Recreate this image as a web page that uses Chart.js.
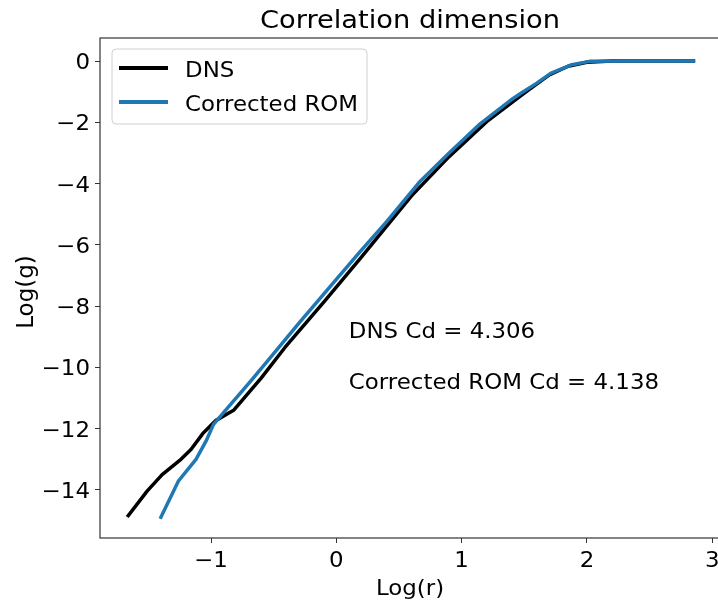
<!DOCTYPE html>
<html>
<head>
<meta charset="utf-8">
<script src="https://cdn.jsdelivr.net/npm/chart.js@4.4.0/dist/chart.umd.min.js"></script>
<style>
  body { margin: 0; background: #fff; }
  #wrap { width: 718px; height: 601px; overflow: hidden; }
</style>
</head>
<body>
<div id="wrap"><canvas id="chart" width="730" height="601"></canvas></div>
<script>
// DNS curve (log r, log g)
const dnsX = [-1.66, -1.51, -1.39, -1.24, -1.16, -1.06, -0.96, -0.82, -0.6, -0.41, -0.09, 0.2, 0.35, 0.6, 0.9, 1.2, 1.5, 1.7, 1.85, 2.0, 2.2, 2.5, 2.85];
const dnsY = [-14.84, -14.04, -13.5, -13.0, -12.68, -12.13, -11.73, -11.4, -10.35, -9.35, -7.82, -6.4, -5.65, -4.4, -3.12, -1.98, -1.05, -0.45, -0.17, -0.04, 0, 0, 0];

// Corrected ROM curve
const romX = [-1.4, -1.26, -1.12, -1.04, -0.98, -0.9, -0.68, -0.53, -0.3, 0, 0.19, 0.4, 0.67, 0.9, 1.15, 1.39, 1.47, 1.6, 1.71, 1.87, 2.02, 2.3, 2.6, 2.85];
const romY = [-14.89, -13.71, -13.0, -12.41, -11.86, -11.48, -10.43, -9.7, -8.56, -7.13, -6.22, -5.25, -3.92, -3.0, -2.04, -1.28, -1.06, -0.72, -0.4, -0.13, -0.01, 0, 0, 0];

const seriesNames = ["DNS", "Corrected ROM"];
const xTicks = [-1, 0, 1, 2, 3];
const yTicks = [0, -2, -4, -6, -8, -10, -12, -14];
const notes = [
    { x: 0.1, y: -9.05, text: "DNS Cd = 4.306" },
    { x: 0.1, y: -10.7, text: "Corrected ROM Cd = 4.138" }
];

const FONT = "'DejaVu Sans', sans-serif";
const STRETCH = 1.09; // the reference text is a little wider than it is tall
const minus = v => String(v).replace("-", "\u2212");

function toPoints(xs, ys) {
    return xs.map((x, i) => ({ x: x, y: ys[i] }));
}

function text(ctx, str, x, y, align, size) {
    ctx.save();
    ctx.translate(x, y);
    ctx.scale(STRETCH, 1);
    ctx.font = size + "px " + FONT;
    ctx.textAlign = align;
    ctx.textBaseline = "alphabetic";
    ctx.fillStyle = "#000";
    ctx.fillText(str, 0, 0);
    ctx.restore();
}

// frame, title, tick labels, legend, axis labels and notes, drawn like matplotlib
const decorations = {
    id: "decorations",
    afterDraw(chart) {
        const ctx = chart.ctx;
        const a = chart.chartArea;
        const xs = chart.scales.x, ys = chart.scales.y;
        ctx.save();

        // box around the plot
        ctx.strokeStyle = "#333";
        ctx.lineWidth = 1.2;
        ctx.strokeRect(a.left, a.top, a.right - a.left, a.bottom - a.top);

        text(ctx, "Correlation dimension", (a.left + a.right) / 2 - 1, 28, "center", 25);
        text(ctx, "Log(r)", (a.left + a.right) / 2 - 1, 595, "center", 21);

        ctx.save();
        ctx.translate(33, (a.top + a.bottom) / 2 + 4);
        ctx.rotate(-Math.PI / 2);
        ctx.font = "23px " + FONT;
        ctx.textAlign = "center";
        ctx.fillStyle = "#000";
        ctx.fillText("Log(g)", 0, 0);
        ctx.restore();

        // tick labels
        xTicks.forEach(v => text(ctx, minus(v), xs.getPixelForValue(v), 567, "center", 21));
        yTicks.forEach(v => text(ctx, minus(v), 90, ys.getPixelForValue(v) + 8, "right", 21));

        // notes
        notes.forEach(n => text(ctx, n.text, xs.getPixelForValue(n.x), ys.getPixelForValue(n.y), "left", 21));

        // legend
        const lx = 112, ly = 49, lw = 255, lh = 75;
        ctx.beginPath();
        ctx.roundRect(lx, ly, lw, lh, 4);
        ctx.fillStyle = "rgba(255,255,255,0.8)";
        ctx.fill();
        ctx.strokeStyle = "#d0d0d0";
        ctx.lineWidth = 1;
        ctx.stroke();
        chart.data.datasets.forEach((ds, i) => {
            const yy = 68 + i * 34;
            ctx.beginPath();
            ctx.moveTo(119, yy);
            ctx.lineTo(168, yy);
            ctx.strokeStyle = ds.borderColor;
            ctx.lineWidth = 4;
            ctx.stroke();
            text(ctx, ds.label, 185, yy + 9, "left", 21);
        });
        ctx.restore();
    }
};

const ctx = document.getElementById("chart").getContext("2d");
const myChart = new Chart(ctx, {
    type: "line",
    data: {
        datasets: [{
            label: seriesNames[0],
            data: toPoints(dnsX, dnsY),
            borderColor: "#000000",
            borderWidth: 3.5,
            order: 2
        }, {
            label: seriesNames[1],
            data: toPoints(romX, romY),
            borderColor: "#1f77b4",
            borderWidth: 3.5,
            order: 1
        }]
    },
    options: {
        responsive: false,
        animation: false,
        events: [],
        layout: { padding: { left: 0, top: 38, right: 8, bottom: 0 } },
        elements: {
            point: { radius: 0 },
            line: { tension: 0, borderJoinStyle: "round", borderCapStyle: "square" }
        },
        plugins: {
            legend: { display: false },
            title: { display: false },
            tooltip: { enabled: false }
        },
        scales: {
            x: {
                type: "linear",
                min: -1.886,
                max: 3.078,
                afterBuildTicks: axis => { axis.ticks = xTicks.map(v => ({ value: v })); },
                afterFit: axis => { axis.height = 63; },
                grid: { drawOnChartArea: false, drawTicks: true, tickLength: 5, color: "#333", lineWidth: 1 },
                border: { display: false },
                ticks: { display: false }
            },
            y: {
                type: "linear",
                min: -15.57,
                max: 0.753,
                afterBuildTicks: axis => { axis.ticks = yTicks.map(v => ({ value: v })); },
                afterFit: axis => { axis.width = 100; },
                grid: { drawOnChartArea: false, drawTicks: true, tickLength: 5, color: "#333", lineWidth: 1 },
                border: { display: false },
                ticks: { display: false }
            }
        }
    },
    plugins: [decorations]
});
</script>
</body>
</html>
